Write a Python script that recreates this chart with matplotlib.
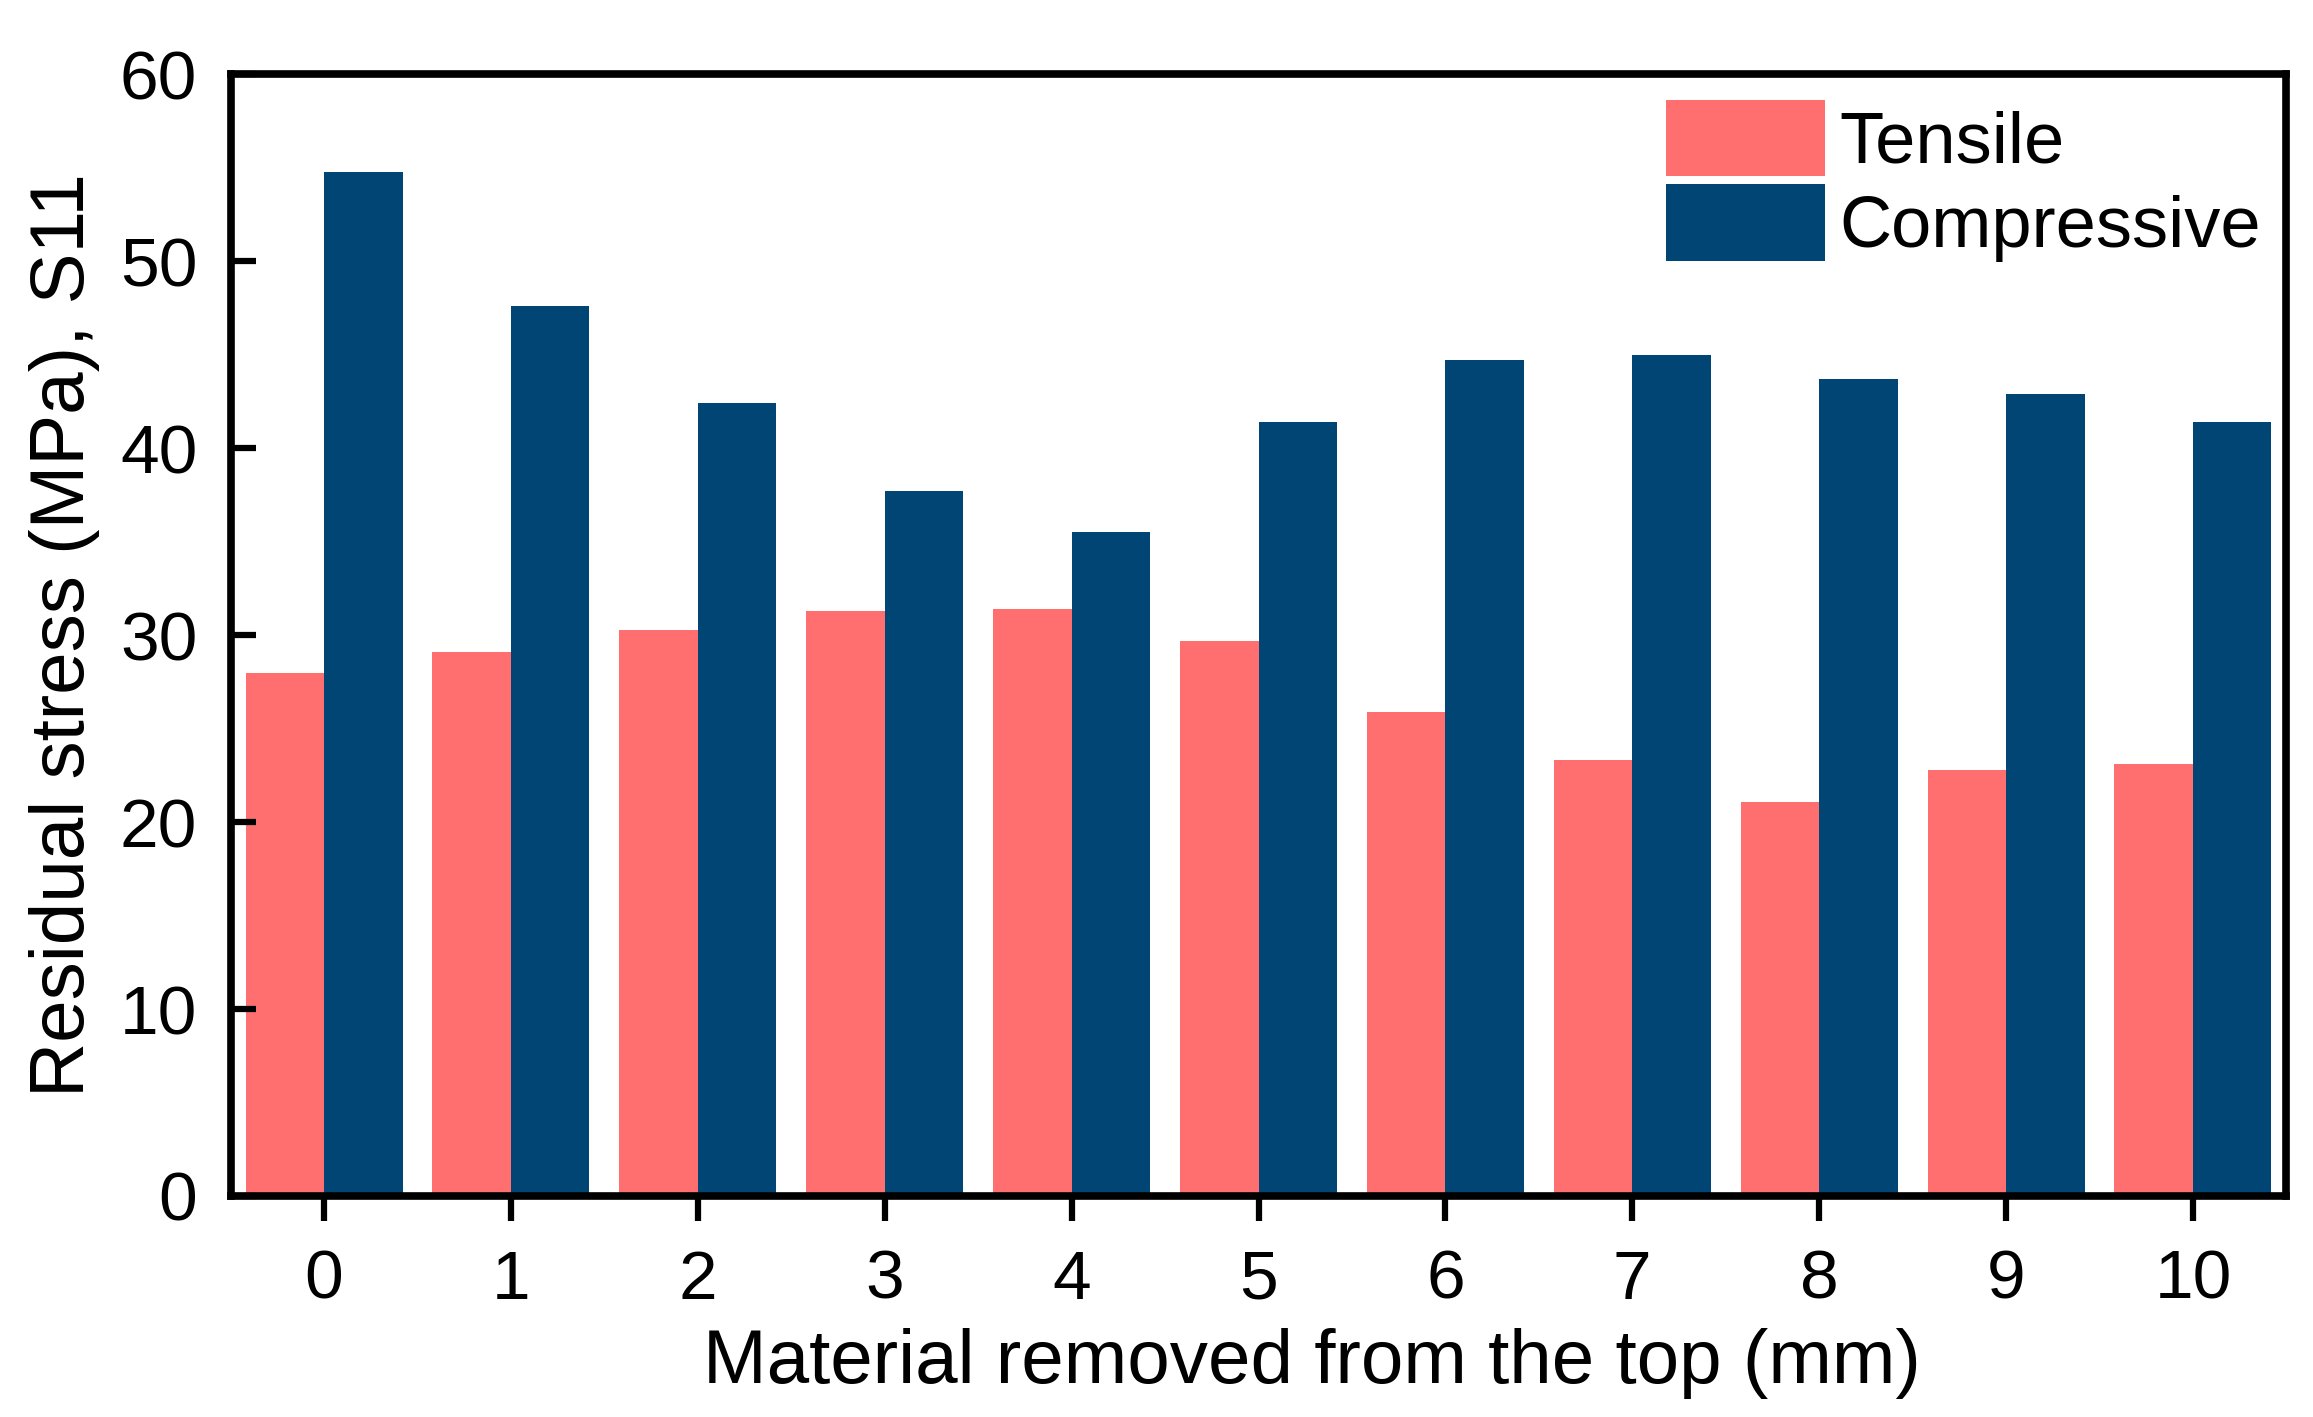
import numpy as np
import matplotlib.pyplot as plt

plt.rcParams['font.family'] = ['Liberation Sans', 'DejaVu Sans']

FONT_AXIS_TITLE = 55
FONT_TICKS = 50
FONT_LEGEND = 52

# Data
removed_mm = [0, 1, 2, 3, 4, 5, 6, 7, 8, 9, 10]
tensile = [28.0, 29.1, 30.3, 31.3, 31.4, 29.7, 25.9, 23.3, 21.1, 22.8, 23.1]
compressive = [54.8, 47.6, 42.4, 37.7, 35.5, 41.4, 44.7, 45.0, 43.7, 42.9, 41.4]

x_pos = np.arange(len(removed_mm))
w = 0.42

fig = plt.figure(figsize=(23.13, 14.17), dpi=100)
ax = fig.add_axes([0.0997, 0.156, 0.8888, 0.7915])

# tensile left of the tick, compressive right of it
ax.bar(x_pos - w, tensile, width=w, align='edge', color='#FF6F6F', label="Tensile")
ax.bar(x_pos, compressive, width=w, align='edge', color='#004574', label="Compressive")

ax.set_xlim(-0.5, 10.5)
ax.set_ylim(0, 60)
ax.set_xticks(x_pos)
ax.set_xticklabels([str(v) for v in removed_mm])
ax.set_yticks([0, 10, 20, 30, 40, 50, 60])

ax.set_xlabel('Material removed from the top (mm)', fontsize=FONT_AXIS_TITLE, labelpad=8)
ax.xaxis.set_label_coords(0.526, -0.118)
ax.set_ylabel('Residual stress (MPa), S11', fontsize=FONT_AXIS_TITLE, labelpad=14)

ax.tick_params(axis='x', which='major', direction='out', length=18, width=4.5,
               labelsize=FONT_TICKS, pad=20)
ax.tick_params(axis='y', which='major', direction='in', length=18, width=4.5,
               labelsize=FONT_TICKS, pad=24)
for s in ax.spines.values():
    s.set_linewidth(5.5)

ax.legend(loc='upper right', frameon=False, prop={'size': FONT_LEGEND},
          handlelength=2.2, handleheight=1.25, handletextpad=0.2,
          labelspacing=0.1, borderaxespad=0.15, borderpad=0.2)

plt.savefig("out.png", dpi=100)
